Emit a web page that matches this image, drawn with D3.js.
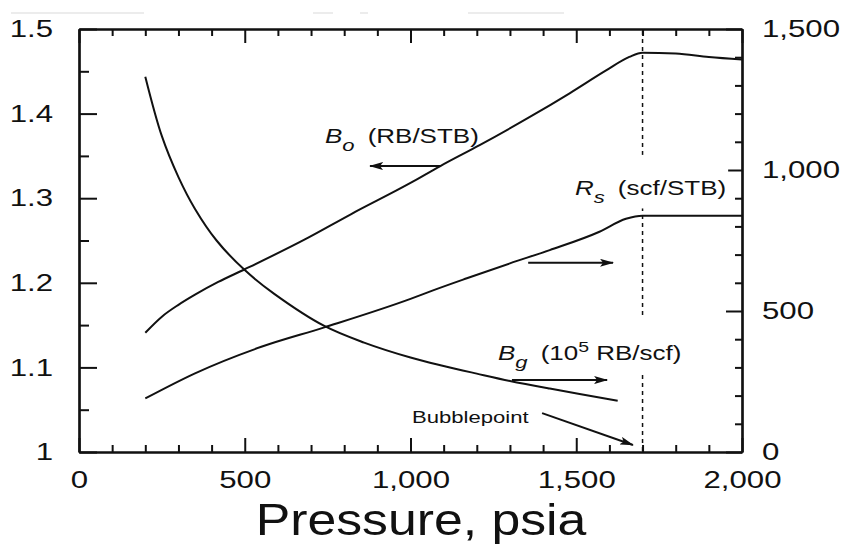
<!DOCTYPE html>
<html>
<head>
<meta charset="utf-8">
<script src="https://cdn.jsdelivr.net/npm/d3@7/dist/d3.min.js"></script>
<style>
  body { margin: 0; background: #fff; }
  svg { display: block; }
</style>
</head>
<body>
<svg id="chart" width="844" height="548"></svg>
<script>
// Oil formation volume factor, RB/STB (left axis)
const boPressure = [200, 250, 300, 350, 420, 500, 680, 820, 1000, 1090, 1210, 1360, 1480, 1590, 1660, 1700, 1800, 1900, 2000];
const boValues   = [1.141, 1.160, 1.174, 1.186, 1.201, 1.216, 1.251, 1.281, 1.318, 1.338, 1.363, 1.396, 1.424, 1.451, 1.467, 1.472, 1.471, 1.467, 1.464];

// Solution gas-oil ratio, scf/STB (right axis)
const rsPressure = [200, 350, 550, 740, 1000, 1070, 1170, 1300, 1420, 1570, 1650, 1700, 2000];
const rsValues   = [190, 279, 373, 442, 543, 574, 616, 669, 716, 781, 827, 838, 838];

// Gas formation volume factor (right axis)
const bgPressure = [200, 250, 300, 350, 415, 500, 590, 740, 860, 1000, 1100, 1200, 1300, 1420, 1625];
const bgValues   = [1331, 1120, 975, 862, 750, 645, 560, 447, 388, 335, 305, 278, 252, 225, 182];

const bubblePoint = 1700;

// Axis ticks
const xMajor = [0, 500, 1000, 1500, 2000];
const xMinor = [100, 200, 300, 400, 600, 700, 800, 900, 1100, 1200, 1300, 1400, 1600, 1700, 1800, 1900];
const leftMajor = [1.0, 1.1, 1.2, 1.3, 1.4, 1.5];
const leftMinor = [1.05, 1.15, 1.25, 1.35, 1.45];
const rightMajor = [0, 500, 1000, 1500];
const rightMinor = [100, 200, 300, 400, 600, 700, 800, 900, 1100, 1200, 1300, 1400];

const svg = d3.select('#chart');
const ink = '#111';
const font = '"Liberation Sans", Arial, Helvetica, sans-serif';
const SX = 1.3; // horizontal text stretch

const plot = { left: 79, right: 742, top: 29, bottom: 452 };
const x  = d3.scaleLinear().domain([0, 2000]).range([plot.left, plot.right]);
const yL = d3.scaleLinear().domain([1, 1.5]).range([plot.bottom, plot.top]);
const yR = d3.scaleLinear().domain([0, 1500]).range([plot.bottom, plot.top]);

// faint scan lines along the top edge
const faint = [[11, 144], [313, 333], [360, 368], [468, 564]];
svg.selectAll('line.faint').data(faint).join('line')
  .attr('x1', d => d[0]).attr('x2', d => d[1]).attr('y1', 13).attr('y2', 13)
  .attr('stroke', '#e6e6e6').attr('stroke-width', 1.5);

function styleAxis(g, size) {
  g.selectAll('.domain').attr('stroke', ink).attr('stroke-width', 2.2);
  g.selectAll('.tick line').attr('stroke', ink).attr('stroke-width', 2);
  g.selectAll('text').attr('font-family', font).attr('font-size', size).attr('fill', ink);
  g.attr('font-family', null).attr('font-size', null);
}

// Bottom axis (labelled) + minor
const gB = svg.append('g').attr('transform', `translate(0,${plot.bottom})`)
  .call(d3.axisBottom(x).tickValues(xMajor).tickSize(-14).tickSizeOuter(0).tickPadding(19).tickFormat(d3.format(',')));
styleAxis(gB, 24);
gB.selectAll('text').attr('transform', `scale(${SX},1)`);
const gBm = svg.append('g').attr('transform', `translate(0,${plot.bottom})`)
  .call(d3.axisBottom(x).tickValues(xMinor).tickSize(-7).tickSizeOuter(0).tickFormat(''));
styleAxis(gBm, 0);

// Top axis (ticks only)
const gT = svg.append('g').attr('transform', `translate(0,${plot.top})`)
  .call(d3.axisTop(x).tickValues(xMajor).tickSize(-14).tickSizeOuter(0).tickFormat(''));
styleAxis(gT, 0);
const gTm = svg.append('g').attr('transform', `translate(0,${plot.top})`)
  .call(d3.axisTop(x).tickValues(xMinor).tickSize(-7).tickSizeOuter(0).tickFormat(''));
styleAxis(gTm, 0);

// Left axis
const padL = 26;
const gL = svg.append('g').attr('transform', `translate(${plot.left},0)`)
  .call(d3.axisLeft(yL).tickValues(leftMajor).tickSize(-18).tickSizeOuter(0).tickPadding(padL)
    .tickFormat(d => d === 1 ? '1' : d3.format('.1f')(d)));
styleAxis(gL, 24);
gL.selectAll('text').attr('x', -padL / SX).attr('transform', `scale(${SX},1)`);
const gLm = svg.append('g').attr('transform', `translate(${plot.left},0)`)
  .call(d3.axisLeft(yL).tickValues(leftMinor).tickSize(-10).tickSizeOuter(0).tickFormat(''));
styleAxis(gLm, 0);

// Right axis
const padR = 20;
const gR = svg.append('g').attr('transform', `translate(${plot.right},0)`)
  .call(d3.axisRight(yR).tickValues(rightMajor).tickSize(-16).tickSizeOuter(0).tickPadding(padR).tickFormat(d3.format(',')));
styleAxis(gR, 24);
gR.selectAll('text').attr('x', padR / SX).attr('transform', `scale(${SX},1)`);
const gRm = svg.append('g').attr('transform', `translate(${plot.right},0)`)
  .call(d3.axisRight(yR).tickValues(rightMinor).tickSize(-7).tickSizeOuter(0).tickFormat(''));
styleAxis(gRm, 0);

// Bubblepoint line
svg.append('line')
  .attr('x1', x(bubblePoint)).attr('x2', x(bubblePoint))
  .attr('y1', plot.top + 2).attr('y2', plot.bottom)
  .attr('stroke', ink).attr('stroke-width', 1.5).attr('stroke-dasharray', '4,4');

// Curves
const lineOf = (px, vals, y, curve) => d3.line().x((d, i) => x(px[i])).y(d => y(d)).curve(curve)(vals);
[
  [boPressure, boValues, yL, d3.curveMonotoneX],
  [rsPressure, rsValues, yR, d3.curveMonotoneX],
  [bgPressure, bgValues, yR, d3.curveCatmullRom.alpha(0.5)]
].forEach(([p, v, y, c]) => {
  svg.append('path').attr('d', lineOf(p, v, y, c))
    .attr('fill', 'none').attr('stroke', ink).attr('stroke-width', 2).attr('stroke-linejoin', 'round');
});

// Arrow marker
svg.append('defs').append('marker')
  .attr('id', 'head').attr('viewBox', '0 0 14 8').attr('refX', 13).attr('refY', 4)
  .attr('markerWidth', 14).attr('markerHeight', 8).attr('markerUnits', 'userSpaceOnUse')
  .attr('orient', 'auto')
  .append('path').attr('d', 'M0,0 L14,4 L0,8 L3,4 Z').attr('fill', ink);

function arrow(p1, v1, p2, v2, y) {
  svg.append('line')
    .attr('x1', x(p1)).attr('y1', y(v1)).attr('x2', x(p2)).attr('y2', y(v2))
    .attr('stroke', ink).attr('stroke-width', 2).attr('marker-end', 'url(#head)');
}
arrow(1089, 1.338, 878, 1.338, yL);   // B_o -> left axis
arrow(1355, 671, 1611, 671, yR);      // R_s -> right axis
arrow(1306, 255, 1593, 255, yR);      // B_g -> right axis
arrow(1397, 138, 1671, 25, yR);       // bubblepoint

// Curve labels
function label(px, py, size, build, mask) {
  const t = svg.append('text')
    .attr('transform', `translate(${px},${py}) scale(${SX},1)`)
    .attr('font-family', font).attr('font-size', size).attr('fill', ink);
  build(t);
  if (mask) {
    const b = t.node().getBBox();
    svg.insert('rect', () => t.node())
      .attr('x', px + b.x * SX - 2).attr('y', py + b.y - mask)
      .attr('width', b.width * SX + 4).attr('height', b.height + mask + 2)
      .attr('fill', '#fff');
  }
  return t;
}
label(325, 143, 20, t => {
  t.append('tspan').attr('font-style', 'italic').text('B');
  t.append('tspan').attr('font-style', 'italic').attr('dy', 8).attr('font-size', 17).text('o');
  t.append('tspan').attr('dy', -8).attr('dx', 10).text('(RB/STB)');
});
label(575, 195, 20, t => {
  t.append('tspan').attr('font-style', 'italic').text('R');
  t.append('tspan').attr('font-style', 'italic').attr('dy', 8).attr('font-size', 17).text('s');
  t.append('tspan').attr('dy', -8).attr('dx', 10).text('(scf/STB)');
}, 22);
label(498, 360, 20, t => {
  t.append('tspan').attr('font-style', 'italic').text('B');
  t.append('tspan').attr('font-style', 'italic').attr('dy', 8).attr('font-size', 17).text('g');
  t.append('tspan').attr('dy', -8).attr('dx', 10).text('(10');
  t.append('tspan').attr('dy', -8).attr('font-size', 15).text('5');
  t.append('tspan').attr('dy', 8).text(' RB/scf)');
}, 22);
label(412, 423, 17, t => t.text('Bubblepoint'));

// Axis title
svg.append('text')
  .attr('transform', 'translate(421,535) scale(1.15,1)')
  .attr('text-anchor', 'middle')
  .attr('font-family', font).attr('font-size', 45).attr('fill', ink)
  .text('Pressure, psia');
</script>
</body>
</html>
